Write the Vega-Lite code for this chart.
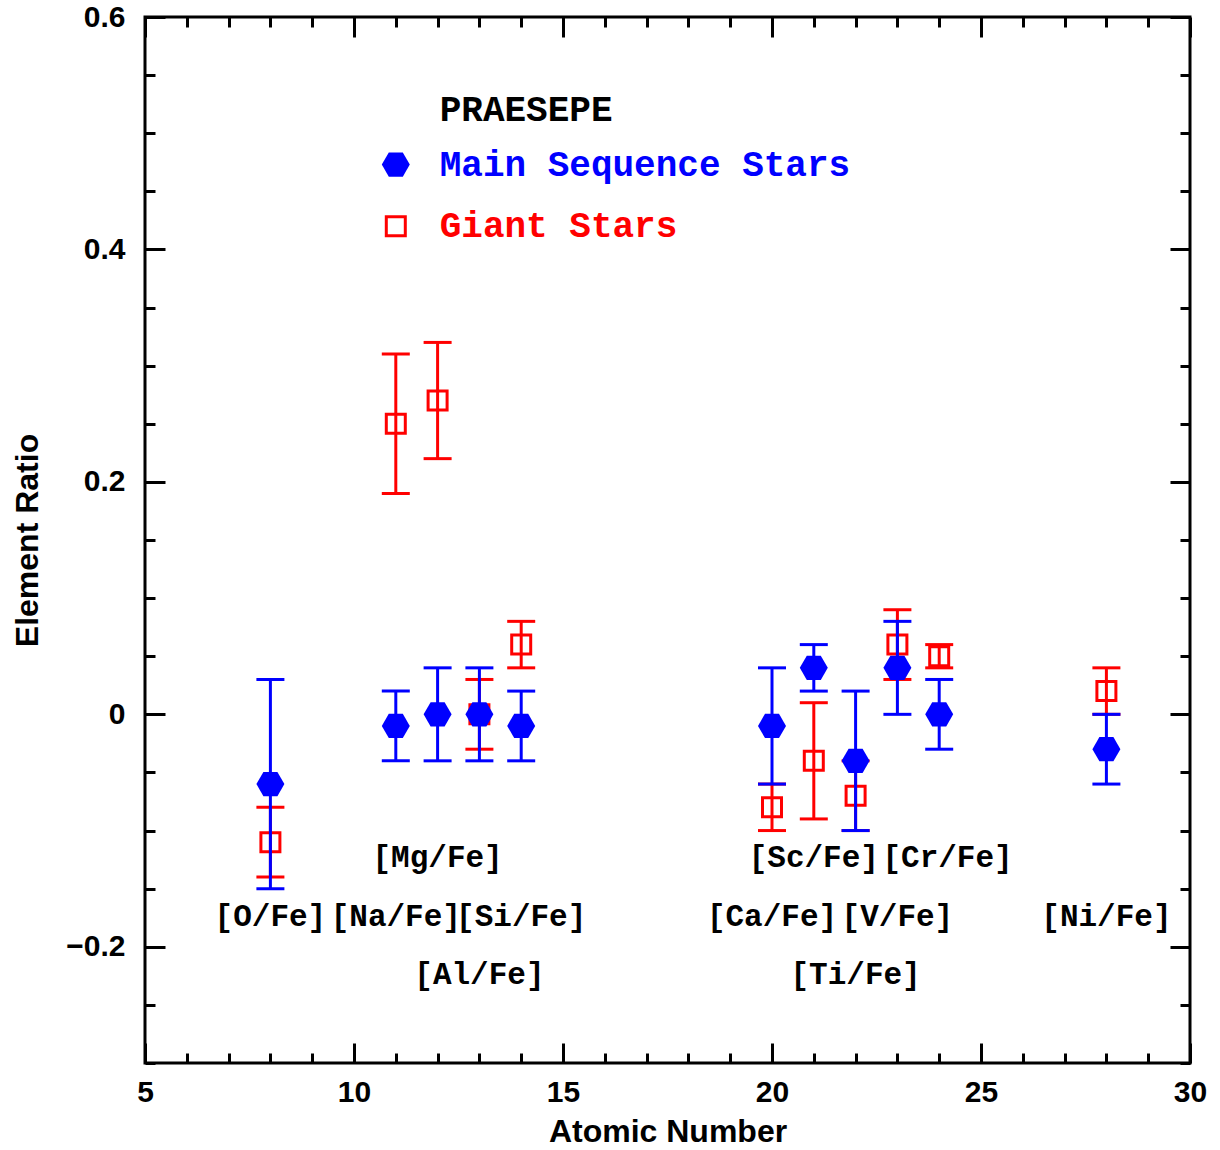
{
  "$schema": "https://vega.github.io/schema/vega-lite/v6.json",
  "width": 1045,
  "height": 1046,
  "autosize": "none",
  "padding": {"left": 145, "top": 17, "right": 30, "bottom": 87},
  "config": {
    "view": {"stroke": "black", "strokeWidth": 3},
    "axis": {"grid": false, "domain": false, "tickColor": "black", "tickWidth": 3, "labelColor": "black", "titleColor": "black", "labelFlush": false, "labelOverlap": false}
  },
  "datasets": {
    "points": [
      {"element": "O", "z": 8, "group": "MS", "value": -0.06, "lo": -0.15, "hi": 0.03},
      {"element": "Na", "z": 11, "group": "MS", "value": -0.01, "lo": -0.04, "hi": 0.02},
      {"element": "Mg", "z": 12, "group": "MS", "value": 0.0, "lo": -0.04, "hi": 0.04},
      {"element": "Al", "z": 13, "group": "MS", "value": 0.0, "lo": -0.04, "hi": 0.04},
      {"element": "Si", "z": 14, "group": "MS", "value": -0.01, "lo": -0.04, "hi": 0.02},
      {"element": "Ca", "z": 20, "group": "MS", "value": -0.01, "lo": -0.06, "hi": 0.04},
      {"element": "Sc", "z": 21, "group": "MS", "value": 0.04, "lo": 0.02, "hi": 0.06},
      {"element": "Ti", "z": 22, "group": "MS", "value": -0.04, "lo": -0.10, "hi": 0.02},
      {"element": "V", "z": 23, "group": "MS", "value": 0.04, "lo": 0.0, "hi": 0.08},
      {"element": "Cr", "z": 24, "group": "MS", "value": 0.0, "lo": -0.03, "hi": 0.03},
      {"element": "Ni", "z": 28, "group": "MS", "value": -0.03, "lo": -0.06, "hi": 0.0},
      {"element": "O", "z": 8, "group": "Giant", "value": -0.11, "lo": -0.14, "hi": -0.08},
      {"element": "Na", "z": 11, "group": "Giant", "value": 0.25, "lo": 0.19, "hi": 0.31},
      {"element": "Mg", "z": 12, "group": "Giant", "value": 0.27, "lo": 0.22, "hi": 0.32},
      {"element": "Al", "z": 13, "group": "Giant", "value": 0.0, "lo": -0.03, "hi": 0.03},
      {"element": "Si", "z": 14, "group": "Giant", "value": 0.06, "lo": 0.04, "hi": 0.08},
      {"element": "Ca", "z": 20, "group": "Giant", "value": -0.08, "lo": -0.10, "hi": -0.06},
      {"element": "Sc", "z": 21, "group": "Giant", "value": -0.04, "lo": -0.09, "hi": 0.01},
      {"element": "Ti", "z": 22, "group": "Giant", "value": -0.07, "lo": -0.10, "hi": -0.04},
      {"element": "V", "z": 23, "group": "Giant", "value": 0.06, "lo": 0.03, "hi": 0.09},
      {"element": "Cr", "z": 24, "group": "Giant", "value": 0.05, "lo": 0.04, "hi": 0.06},
      {"element": "Ni", "z": 28, "group": "Giant", "value": 0.02, "lo": 0.0, "hi": 0.04}
    ],
    "labels": [
      {"z": 12, "y": -0.124, "label": "[Mg/Fe]"},
      {"z": 21, "y": -0.124, "label": "[Sc/Fe]"},
      {"z": 24.2, "y": -0.124, "label": "[Cr/Fe]"},
      {"z": 8, "y": -0.174, "label": "[O/Fe]"},
      {"z": 11, "y": -0.174, "label": "[Na/Fe]"},
      {"z": 14, "y": -0.174, "label": "[Si/Fe]"},
      {"z": 20, "y": -0.174, "label": "[Ca/Fe]"},
      {"z": 23, "y": -0.174, "label": "[V/Fe]"},
      {"z": 28, "y": -0.174, "label": "[Ni/Fe]"},
      {"z": 13, "y": -0.224, "label": "[Al/Fe]"},
      {"z": 22, "y": -0.224, "label": "[Ti/Fe]"}
    ],
    "legendText": [
      {"x": 12.05, "y": 0.52, "label": "PRAESEPE", "group": "title"},
      {"x": 12.05, "y": 0.473, "label": "Main Sequence Stars", "group": "MS"},
      {"x": 12.05, "y": 0.42, "label": "Giant Stars", "group": "Giant"}
    ],
    "legendSymbols": [
      {"x": 11, "y": 0.473, "group": "MS"},
      {"x": 11, "y": 0.42, "group": "Giant"}
    ]
  },
  "resolve": {"axis": {"x": "independent", "y": "independent"}},
  "layer": [
    {
      "data": {"name": "points"},
      "transform": [{"filter": "datum.group === 'Giant'"}],
      "mark": {"type": "rule", "color": "#ff0000", "strokeWidth": 3},
      "encoding": {
        "x": {"field": "z", "type": "quantitative", "scale": {"domain": [5, 30], "nice": false, "zero": false},
          "axis": {"orient": "bottom", "values": [5,6,7,8,9,10,11,12,13,14,15,16,17,18,19,20,21,22,23,24,25,26,27,28,29,30],
            "tickSize": {"condition": {"test": "datum.value % 5 === 0", "value": -20}, "value": -10},
            "labelExpr": "datum.value % 5 === 0 ? datum.label : ''",
            "labelFont": "Liberation Sans", "labelFontSize": 30, "labelFontWeight": "bold", "labelPadding": 34,
            "title": "Atomic Number", "titleFont": "Liberation Sans", "titleFontSize": 32, "titleFontWeight": "bold", "titlePadding": -1}},
        "y": {"field": "lo", "type": "quantitative", "scale": {"domain": [-0.3, 0.6], "nice": false, "zero": false},
          "axis": {"orient": "left", "values": [-0.3,-0.25,-0.2,-0.15,-0.1,-0.05,0,0.05,0.1,0.15,0.2,0.25,0.3,0.35,0.4,0.45,0.5,0.55,0.6],
            "tickSize": {"condition": {"test": "abs(datum.value*5 - round(datum.value*5)) < 1e-6", "value": -20}, "value": -10},
            "labelExpr": "abs(datum.value*5 - round(datum.value*5)) < 1e-6 ? (datum.value < 0 ? '\u2212' + format(-datum.value, '.1f') : (datum.value == 0 ? '0' : format(datum.value, '.1f'))) : ''",
            "labelFont": "Liberation Sans", "labelFontSize": 30, "labelFontWeight": "bold", "labelPadding": 40,
            "title": "Element Ratio", "titleFont": "Liberation Sans", "titleFontSize": 32, "titleFontWeight": "bold", "titlePadding": 21}},
        "y2": {"field": "hi"}
      }
    },
    {
      "data": {"name": "points"},
      "transform": [{"filter": "datum.group === 'Giant'"}],
      "mark": {"type": "rule", "strokeDash": [3, 6], "strokeWidth": 3, "color": "black"},
      "encoding": {
        "x": {"field": "z", "type": "quantitative",
          "axis": {"orient": "top", "values": [5,6,7,8,9,10,11,12,13,14,15,16,17,18,19,20,21,22,23,24,25,26,27,28,29,30],
            "tickSize": {"condition": {"test": "datum.value % 5 === 0", "value": -20}, "value": -10},
            "labels": false, "title": null}},
        "y": {"datum": 0, "type": "quantitative",
          "axis": {"orient": "right", "values": [-0.3,-0.25,-0.2,-0.15,-0.1,-0.05,0,0.05,0.1,0.15,0.2,0.25,0.3,0.35,0.4,0.45,0.5,0.55,0.6],
            "tickSize": {"condition": {"test": "abs(datum.value*5 - round(datum.value*5)) < 1e-6", "value": -20}, "value": -10},
            "labels": false, "title": null}},
        "opacity": {"value": 0}
      }
    },
    {
      "mark": {"type": "rule", "strokeDash": [3, 6], "strokeWidth": 3, "color": "black"},
      "encoding": {"y": {"datum": 0, "type": "quantitative", "axis": null}}
    },
    {
      "data": {"name": "points"},
      "transform": [{"filter": "datum.group === 'Giant'"}, {"fold": ["lo", "hi"], "as": ["end", "endval"]}],
      "mark": {"type": "tick", "orient": "horizontal", "color": "#ff0000", "size": 28, "thickness": 3, "opacity": 1},
      "encoding": {
        "x": {"field": "z", "type": "quantitative", "axis": null},
        "y": {"field": "endval", "type": "quantitative", "axis": null}
      }
    },
    {
      "data": {"name": "points"},
      "transform": [{"filter": "datum.group === 'Giant'"}],
      "mark": {"type": "point", "shape": "square", "filled": false, "color": "#ff0000", "strokeWidth": 3, "size": 361, "opacity": 1},
      "encoding": {
        "x": {"field": "z", "type": "quantitative", "axis": null},
        "y": {"field": "value", "type": "quantitative", "axis": null}
      }
    },
    {
      "data": {"name": "points"},
      "transform": [{"filter": "datum.group === 'MS'"}],
      "mark": {"type": "rule", "color": "#0000ff", "strokeWidth": 3},
      "encoding": {
        "x": {"field": "z", "type": "quantitative", "axis": null},
        "y": {"field": "lo", "type": "quantitative", "axis": null},
        "y2": {"field": "hi"}
      }
    },
    {
      "data": {"name": "points"},
      "transform": [{"filter": "datum.group === 'MS'"}, {"fold": ["lo", "hi"], "as": ["end", "endval"]}],
      "mark": {"type": "tick", "orient": "horizontal", "color": "#0000ff", "size": 28, "thickness": 3, "opacity": 1},
      "encoding": {
        "x": {"field": "z", "type": "quantitative", "axis": null},
        "y": {"field": "endval", "type": "quantitative", "axis": null}
      }
    },
    {
      "data": {"name": "points"},
      "transform": [{"filter": "datum.group === 'MS'"}],
      "mark": {"type": "point", "shape": "M-1,0L-0.5,-0.866L0.5,-0.866L1,0L0.5,0.866L-0.5,0.866Z", "filled": true, "color": "#0000ff", "size": 784, "opacity": 1},
      "encoding": {
        "x": {"field": "z", "type": "quantitative", "axis": null},
        "y": {"field": "value", "type": "quantitative", "axis": null}
      }
    },
    {
      "data": {"name": "labels"},
      "mark": {"type": "text", "font": "Liberation Mono", "fontSize": 31, "fontWeight": "bold", "color": "black", "align": "center", "baseline": "middle"},
      "encoding": {
        "x": {"field": "z", "type": "quantitative", "axis": null},
        "y": {"field": "y", "type": "quantitative", "axis": null},
        "text": {"field": "label"}
      }
    },
    {
      "data": {"name": "legendText"},
      "mark": {"type": "text", "font": "Liberation Mono", "fontSize": 36, "fontWeight": "bold", "align": "left", "baseline": "middle"},
      "encoding": {
        "x": {"field": "x", "type": "quantitative", "axis": null},
        "y": {"field": "y", "type": "quantitative", "axis": null},
        "text": {"field": "label"},
        "color": {"field": "group", "type": "nominal", "scale": {"domain": ["title", "MS", "Giant"], "range": ["#000000", "#0000ff", "#ff0000"]}, "legend": null}
      }
    },
    {
      "data": {"name": "legendSymbols"},
      "transform": [{"filter": "datum.group === 'MS'"}],
      "mark": {"type": "point", "shape": "M-1,0L-0.5,-0.866L0.5,-0.866L1,0L0.5,0.866L-0.5,0.866Z", "filled": true, "color": "#0000ff", "size": 784, "opacity": 1},
      "encoding": {
        "x": {"field": "x", "type": "quantitative", "axis": null},
        "y": {"field": "y", "type": "quantitative", "axis": null}
      }
    },
    {
      "data": {"name": "legendSymbols"},
      "transform": [{"filter": "datum.group === 'Giant'"}],
      "mark": {"type": "point", "shape": "square", "filled": false, "color": "#ff0000", "strokeWidth": 3, "size": 361, "opacity": 1},
      "encoding": {
        "x": {"field": "x", "type": "quantitative", "axis": null},
        "y": {"field": "y", "type": "quantitative", "axis": null}
      }
    }
  ]
}
